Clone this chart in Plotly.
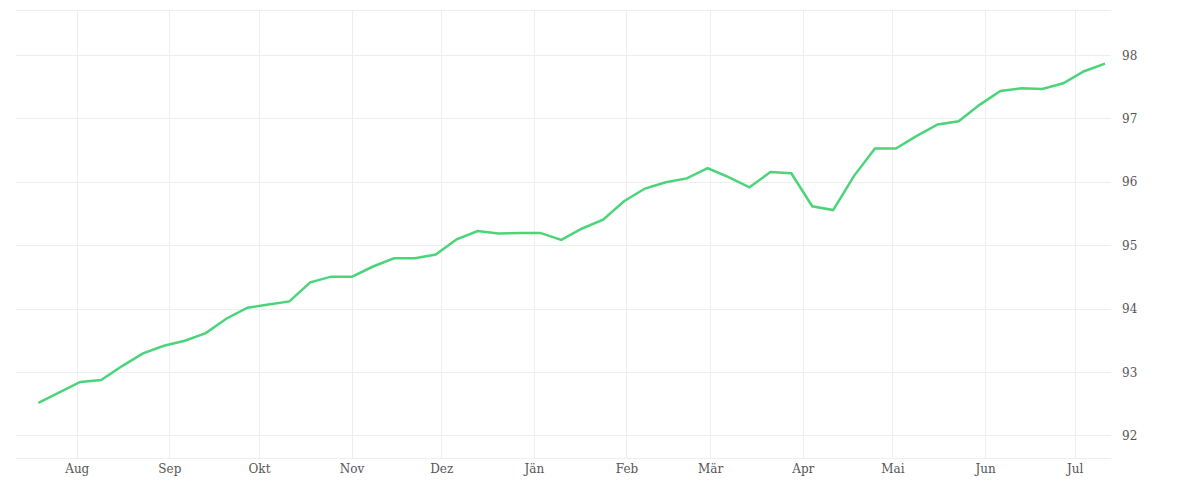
import pandas as pd
import plotly.graph_objects as go

start = "2022-07-19"
values = [92.52, 92.68, 92.85, 92.88, 93.10, 93.30, 93.42, 93.50, 93.62, 93.85,
          94.02, 94.07, 94.12, 94.42, 94.51, 94.51, 94.67, 94.80, 94.80, 94.86,
          95.10, 95.23, 95.19, 95.20, 95.20, 95.09, 95.27, 95.41, 95.70, 95.90,
          96.00, 96.06, 96.22, 96.08, 95.92, 96.16, 96.14, 95.62, 95.56, 96.10,
          96.53, 96.53, 96.73, 96.91, 96.96, 97.22, 97.44, 97.48, 97.47, 97.56,
          97.75, 97.87]
dates = pd.date_range(start, periods=len(values), freq="7D")
tick_vals = pd.date_range("2022-08-01", "2023-07-01", freq="MS")
tick_text = ["Aug", "Sep", "Okt", "Nov", "Dez", "Jän", "Feb", "Mär", "Apr", "Mai", "Jun", "Jul"]

fig = go.Figure(go.Scatter(x=dates, y=values, mode="lines",
                           line=dict(color="#4cd47a", width=2.5), hoverinfo="x+y"))
fig.update_layout(
    width=1200, height=500, paper_bgcolor="white", plot_bgcolor="white",
    margin=dict(l=8, r=97, t=3, b=50), showlegend=False,
    font=dict(family="DejaVu Serif", size=12, color="#555"),
)
fig.update_xaxes(range=["2022-07-11 12:00", "2023-07-13"], tickvals=tick_vals, ticktext=tick_text,
                 showgrid=True, gridcolor="#eeeeee", zeroline=False, ticks="",
                 showline=True, linecolor="#eeeeee", mirror=True)
fig.update_yaxes(side="right", range=[91.65, 98.7], tickvals=[92, 93, 94, 95, 96, 97, 98],
                 showgrid=True, gridcolor="#eeeeee", zeroline=False, ticks="", ticklabelstandoff=10)
fig.write_html("out.html")
